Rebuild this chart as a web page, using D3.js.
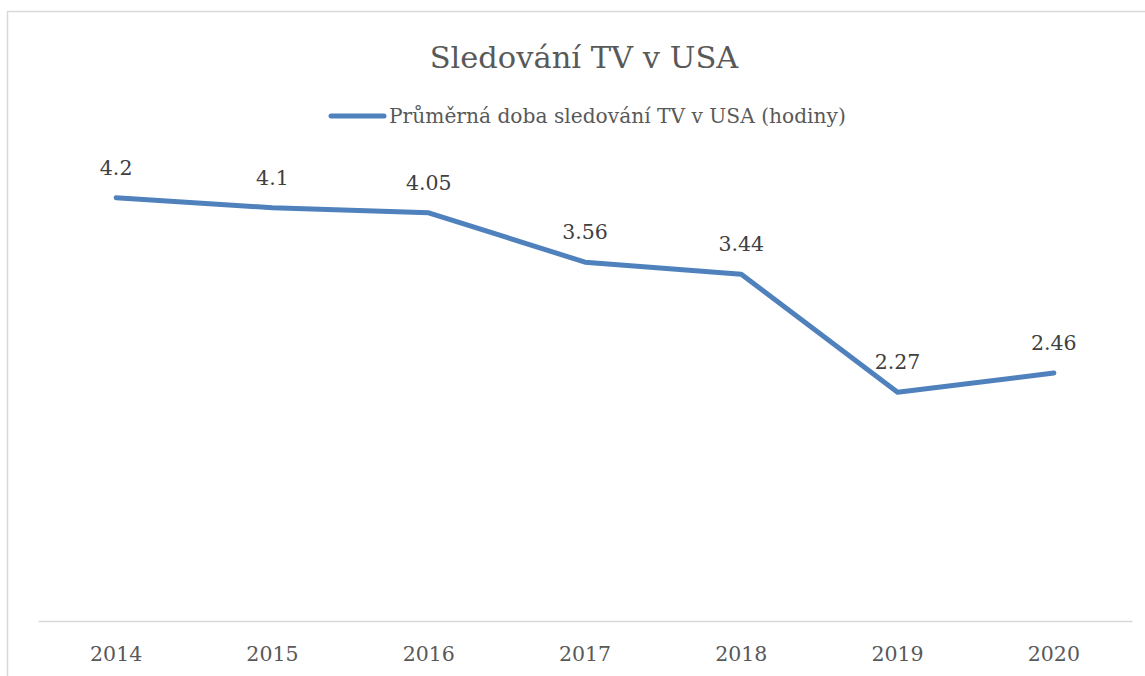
<!DOCTYPE html>
<html><head><meta charset="utf-8">
<script src="https://cdn.jsdelivr.net/npm/d3@7/dist/d3.min.js"></script>
<style>body{margin:0;background:#fff}svg{display:block}</style>
</head><body>
<svg id="c" width="1145" height="676"></svg>
<script>
const years = ["2014","2015","2016","2017","2018","2019","2020"];
const values = [4.2, 4.1, 4.05, 3.56, 3.44, 2.27, 2.46];
const seriesName = "Průměrná doba sledování TV v USA (hodiny)";
const title = "Sledování TV v USA";

const svg = d3.select("#c");
const font = "'DejaVu Serif', serif";
const textColor = "#595959";
const lineColor = "#4f81bd";

// frame
svg.append("rect").attr("x",7.5).attr("y",11.5).attr("width",1200).attr("height",700)
  .attr("fill","none").attr("stroke","#d9d9d9").attr("stroke-width",1.5);

const x = d3.scaleBand().domain(years).range([38,1132]);
const y = d3.scaleLinear().domain([0,5]).range([621,117]);

svg.append("text").attr("x",584).attr("y",68).attr("text-anchor","middle")
  .attr("font-family",font).attr("font-size",30.5).attr("fill",textColor).text(title);

// legend
svg.append("line").attr("x1",331).attr("x2",384).attr("y1",116).attr("y2",116)
  .attr("stroke",lineColor).attr("stroke-width",5).attr("stroke-linecap","round");
svg.append("text").attr("x",389).attr("y",123).attr("font-family",font).attr("font-size",20.2)
  .attr("fill",textColor).text(seriesName);

// axis
const ax = svg.append("g").attr("transform","translate(0,621)")
  .call(d3.axisBottom(x).tickSize(0).tickPadding(25));
ax.select(".domain").attr("stroke","#d9d9d9").attr("stroke-width",1.5);
ax.selectAll("text").attr("font-family",font).attr("font-size",20.5).attr("fill",textColor);

const cx = d => x(d) + x.bandwidth()/2;
const line = d3.line().x((d,i)=>cx(years[i])).y(d=>y(d));
svg.append("path").datum(values).attr("d",line).attr("fill","none")
  .attr("stroke",lineColor).attr("stroke-width",5).attr("stroke-linecap","round").attr("stroke-linejoin","round");

svg.selectAll(".lbl").data(values).enter().append("text")
  .attr("x",(d,i)=>cx(years[i])).attr("y",d=>y(d)-23).attr("text-anchor","middle")
  .attr("font-family",font).attr("font-size",20.5).attr("fill","#404040").text(d=>d);
</script>
</body></html>
